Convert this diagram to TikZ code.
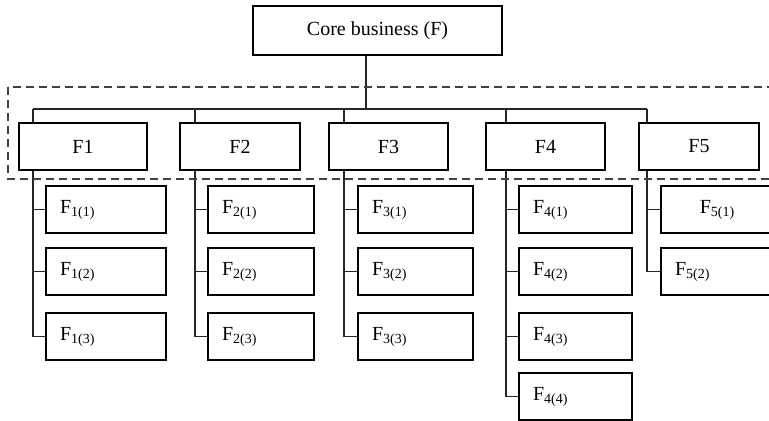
\documentclass[tikz,border=0pt]{standalone}
\usepackage{fontspec}
\setmainfont{Liberation Serif}
\usetikzlibrary{positioning}

\tikzset{
	link/.style={line width=0.6pt, black!85},
	corebox/.style={draw, line width=0.6pt, fill=white, minimum width=124.5pt, minimum height=24.5pt, font=\fontsize{10}{12}\selectfont},
	funcbox/.style={draw, line width=0.6pt, fill=white, minimum height=23.5pt, font=\fontsize{10}{12}\selectfont},
	subbox/.style={draw, line width=0.6pt, fill=white, minimum height=23.5pt, inner xsep=7pt, text width=#1, align=left, font=\fontsize{10}{12}\selectfont},
	groupframe/.style={line width=0.6pt, black!75, dash pattern=on 4pt off 2.5pt}
}

\begin{document}
\begin{tikzpicture}[x=0.5pt, y=-0.5pt]
	\clip (0,0) rectangle (769,421);
	% top level
	\node[corebox] (core) at (377.5,30.5) {Core business (F)};
	\coordinate (root) at (366,109);
	\foreach \i/\x in {1/33,2/195,3/344,4/506,5/647}
		\coordinate (bar\i) at (\x,109);
	% functions
	\node[funcbox, minimum width=64pt] (F1) at (83,146.5) {F1};
	\node[funcbox, minimum width=60pt] (F2) at (240,146.5) {F2};
	\node[funcbox, minimum width=59.5pt] (F3) at (388.5,146.5) {F3};
	\node[funcbox, minimum width=59.5pt] (F4) at (545.5,146.5) {F4};
	\node[funcbox, minimum width=60pt] (F5) at (699,146.5) {F5};
	% sub functions
	\node[subbox=46pt] (F1-1) at (106,209.5) {F\textsubscript{1(1)}};
	\node[subbox=46pt] (F1-2) at (106,271.5) {F\textsubscript{1(2)}};
	\node[subbox=46pt] (F1-3) at (106,336.5) {F\textsubscript{1(3)}};
	\node[subbox=39pt] (F2-1) at (261,209.5) {F\textsubscript{2(1)}};
	\node[subbox=39pt] (F2-2) at (261,271.5) {F\textsubscript{2(2)}};
	\node[subbox=39pt] (F2-3) at (261,336.5) {F\textsubscript{2(3)}};
	\node[subbox=43.5pt] (F3-1) at (415.5,209.5) {F\textsubscript{3(1)}};
	\node[subbox=43.5pt] (F3-2) at (415.5,271.5) {F\textsubscript{3(2)}};
	\node[subbox=43.5pt] (F3-3) at (415.5,336.5) {F\textsubscript{3(3)}};
	\node[subbox=42.5pt] (F4-1) at (575.5,209.5) {F\textsubscript{4(1)}};
	\node[subbox=42.5pt] (F4-2) at (575.5,271.5) {F\textsubscript{4(2)}};
	\node[subbox=42.5pt] (F4-3) at (575.5,336.5) {F\textsubscript{4(3)}};
	\node[subbox=42.5pt] (F4-4) at (575.5,396.5) {F\textsubscript{4(4)}};
	\node[subbox=42.5pt, align=center] (F5-1) at (717.5,209.5) {F\textsubscript{5(1)}};
	\node[subbox=42.5pt] (F5-2) at (717.5,271.5) {F\textsubscript{5(2)}};
	% connectors
	\draw[link] (core.south -| root) -- (root);
	\draw[link] (bar1) -- (bar5);
	\foreach \i/\n in {1/3,2/3,3/3,4/4,5/2} {
		\draw[link] (bar\i) -- (bar\i |- F\i.north);
		\draw[link] (bar\i |- F\i.south) |- (F\i-\n.west);
		\foreach \k in {1,...,\n}
			\draw[link] (bar\i |- F\i-\k.west) -- (F\i-\k.west);
	}
	% dashed group frame
	\draw[groupframe] (8,87) rectangle (800,179);
\end{tikzpicture}
\end{document}
